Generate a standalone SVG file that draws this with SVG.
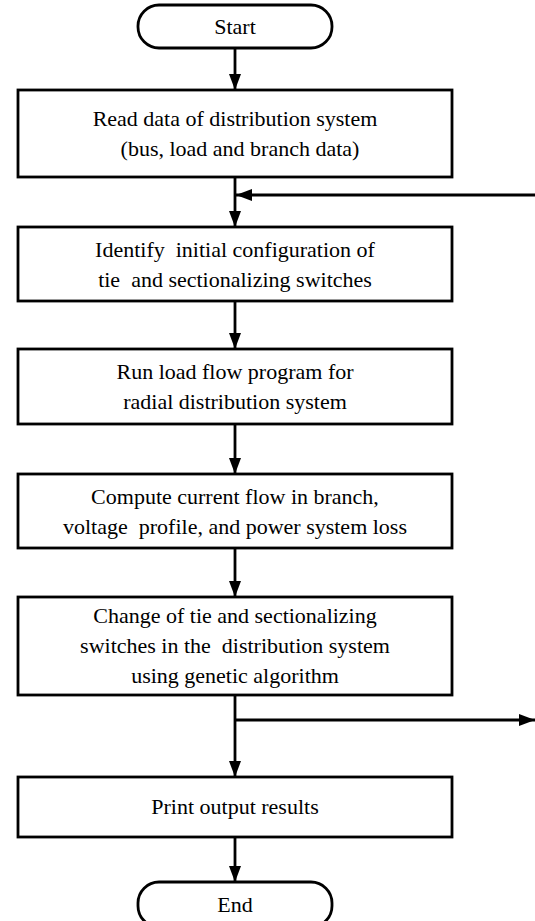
<svg xmlns="http://www.w3.org/2000/svg" width="535" height="921" viewBox="0 0 535 921">
<style>
.box{fill:#fff;stroke:#000;stroke-width:2.8}
.t{font-family:"Liberation Serif","Times New Roman",serif;font-size:22px;fill:#000;text-anchor:middle;white-space:pre}
.c{stroke:#000;stroke-width:2.8;fill:none}
</style>
<defs>
<marker id="ah" markerUnits="userSpaceOnUse" markerWidth="16" markerHeight="12" refX="16" refY="6" orient="auto">
<path d="M0,0 L16,6 L0,12 z" fill="#000"/>
</marker>
</defs>
<rect width="535" height="921" fill="#fff"/>
<g id="connectors">
<line class="c" x1="235" y1="48" x2="235" y2="90" marker-end="url(#ah)"/>
<line class="c" x1="235" y1="177" x2="235" y2="227" marker-end="url(#ah)"/>
<line class="c" x1="535" y1="195" x2="236" y2="195" marker-end="url(#ah)"/>
<line class="c" x1="235" y1="301" x2="235" y2="349" marker-end="url(#ah)"/>
<line class="c" x1="235" y1="424" x2="235" y2="474" marker-end="url(#ah)"/>
<line class="c" x1="235" y1="548" x2="235" y2="597" marker-end="url(#ah)"/>
<line class="c" x1="235" y1="695" x2="235" y2="777" marker-end="url(#ah)"/>
<line class="c" x1="235" y1="720" x2="535" y2="720" marker-end="url(#ah)"/>
<line class="c" x1="235" y1="837" x2="235" y2="882" marker-end="url(#ah)"/>
</g>
<g id="start">
<rect class="box" x="138" y="5" width="194" height="43" rx="21"/>
<text class="t" x="235" y="34">Start</text>
</g>
<g id="read">
<rect class="box" x="18" y="90" width="434" height="87"/>
<text class="t" x="235" y="126">Read data of distribution system</text>
<text class="t" x="240" y="156">(bus, load and branch data)</text>
</g>
<g id="identify">
<rect class="box" x="18" y="227" width="434" height="74"/>
<text class="t" x="235" y="257">Identify  initial configuration of</text>
<text class="t" x="235" y="287">tie  and sectionalizing switches</text>
</g>
<g id="loadflow">
<rect class="box" x="18" y="349" width="434" height="75"/>
<text class="t" x="235" y="379">Run load flow program for</text>
<text class="t" x="235" y="409">radial distribution system</text>
</g>
<g id="compute">
<rect class="box" x="18" y="474" width="434" height="74"/>
<text class="t" x="235" y="504">Compute current flow in branch,</text>
<text class="t" x="235" y="534">voltage  profile, and power system loss</text>
</g>
<g id="change">
<rect class="box" x="18" y="597" width="434" height="98"/>
<text class="t" x="235" y="623">Change of tie and sectionalizing</text>
<text class="t" x="235" y="653">switches in the  distribution system</text>
<text class="t" x="235" y="683">using genetic algorithm</text>
</g>
<g id="print">
<rect class="box" x="18" y="777" width="434" height="60"/>
<text class="t" x="235" y="814">Print output results</text>
</g>
<g id="end">
<rect class="box" x="138" y="882" width="194" height="45" rx="21"/>
<text class="t" x="235" y="912">End</text>
</g>
</svg>
